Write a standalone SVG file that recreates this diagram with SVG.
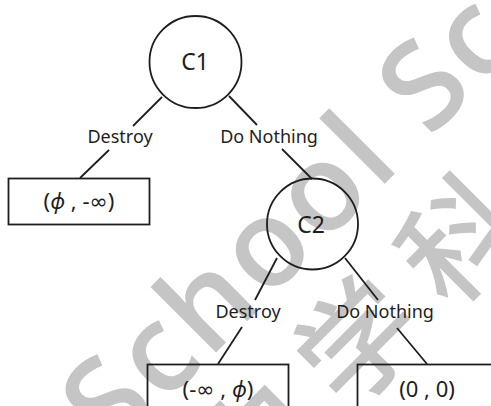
<svg xmlns="http://www.w3.org/2000/svg" width="491" height="406" viewBox="0 0 491 406">
  <style>
    .wm { fill: #c5c5c5; }
    .wm-en { font-family: "Open Sans", "Noto Sans", sans-serif; font-weight: 600; font-size: 122px; letter-spacing: 4px; }
    .wm-zh { font-family: "Noto Sans CJK SC", sans-serif; font-weight: 500; font-size: 118px; letter-spacing: 27px; }
    .node circle, .node rect { fill: none; stroke: #1e1e1e; stroke-width: 1.8; }
    .edges line { stroke: #1e1e1e; stroke-width: 1.8; }
    text.lbl { font-family: "Noto Sans", "Open Sans", sans-serif; font-size: 18px; fill: #1e1e1e; text-anchor: middle; }
    text.nm { font-family: "Noto Sans", "Open Sans", sans-serif; font-size: 23px; fill: #1e1e1e; text-anchor: middle; }
    text.val { font-family: "Noto Sans", "DejaVu Sans", sans-serif; font-size: 22px; fill: #1e1e1e; text-anchor: middle; }
    .phi { font-style: italic; }
  </style>

  <rect width="491" height="406" fill="#ffffff"/>

  <!-- background watermark, rotated 45 degrees -->
  <g class="wm" transform="rotate(-45)">
    <text class="wm-en" x="-242" y="402">School Science</text>
    <text class="wm-zh" x="-192" y="538">中学科学</text>
  </g>

  <!-- connectors -->
  <g class="edges">
    <line x1="162" y1="97" x2="133" y2="126"/>
    <line x1="109" y1="150" x2="80" y2="178"/>
    <line x1="229" y1="96" x2="257" y2="125"/>
    <line x1="282" y1="149" x2="312" y2="179"/>
    <line x1="277" y1="258" x2="255" y2="300"/>
    <line x1="242" y1="327" x2="218" y2="364"/>
    <line x1="345" y1="258" x2="378" y2="300"/>
    <line x1="397" y1="328" x2="427" y2="364"/>
  </g>

  <!-- edge labels -->
  <g class="labels">
    <text class="lbl" x="120" y="143">Destroy</text>
    <text class="lbl" x="269" y="143">Do Nothing</text>
    <text class="lbl" x="248" y="318">Destroy</text>
    <text class="lbl" x="385" y="318">Do Nothing</text>
  </g>

  <g id="c1" class="node">
    <circle cx="195.5" cy="62" r="46"/>
    <text class="nm" x="195" y="70">C1</text>
  </g>

  <g id="c2" class="node">
    <circle cx="312.5" cy="224" r="45.5"/>
    <text class="nm" x="311" y="233">C2</text>
  </g>

  <g id="leaf-destroy" class="node">
    <rect x="8.5" y="178.5" width="141" height="46"/>
    <text class="val" x="79" y="209">(<tspan class="phi">ϕ</tspan> , -∞)</text>
  </g>

  <g id="leaf-c2-destroy" class="node">
    <rect x="147.5" y="364.5" width="141" height="46"/>
    <text class="val" x="218" y="397">(-∞ , <tspan class="phi">ϕ</tspan>)</text>
  </g>

  <g id="leaf-c2-nothing" class="node">
    <rect x="357.5" y="364.5" width="141" height="46"/>
    <text class="val" x="427" y="397">(0 , 0)</text>
  </g>
</svg>
